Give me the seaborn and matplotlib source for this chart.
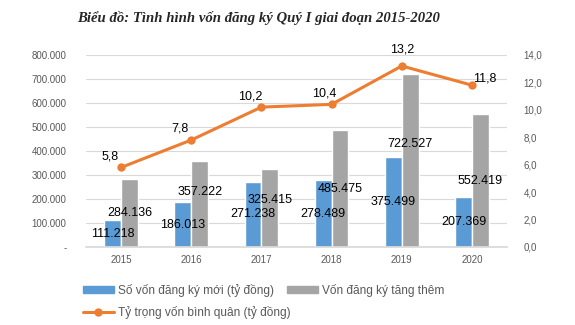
import numpy as np
import pandas as pd
import matplotlib
matplotlib.use("Agg")
import matplotlib.pyplot as plt
import seaborn as sns
from matplotlib.lines import Line2D
from matplotlib.patches import Patch

years = ["2015", "2016", "2017", "2018", "2019", "2020"]
new_capital = [111218, 186013, 271238, 278489, 375499, 207369]
added_capital = [284136, 357222, 325415, 485475, 722527, 552419]
avg_ratio = [5.8, 7.8, 10.2, 10.4, 13.2, 11.8]

s_new = "Số vốn đăng ký mới (tỷ đồng)"
s_add = "Vốn đăng ký tăng thêm"
s_ratio = "Tỷ trọng vốn bình quân (tỷ đồng)"
title = "Biểu đồ: Tình hình vốn đăng ký Quý I giai đoạn 2015-2020"

BLUE = "#5B9BD5"
GRAY = "#A5A5A5"
ORANGE = "#ED7D31"
TICK = "#595959"

sns.set_theme(style="white")
plt.rcParams["font.family"] = ["Liberation Sans", "DejaVu Sans"]

df = pd.DataFrame({
    "year": years * 2,
    "value": new_capital + added_capital,
    "series": [s_new] * len(years) + [s_add] * len(years),
})

fig = plt.figure(figsize=(5.75, 3.25), dpi=100)
ax = fig.add_axes([86 / 575, 78 / 325, 421 / 575, 192 / 325])

sns.barplot(data=df, x="year", y="value", hue="series", order=years,
            hue_order=[s_new, s_add], palette=[BLUE, GRAY], width=0.48,
            saturation=1, ax=ax, legend=False, errorbar=None)
ax.set_xlim(-0.5, len(years) - 0.5)
ax.set_ylim(0, 800000)
ax.set_yticks(np.arange(0, 800001, 100000))
ax.set_yticklabels(["-"] + [f"{v:,}".replace(",", ".") for v in range(100000, 800001, 100000)])
ax.set_xlabel("")
ax.set_ylabel("")
ax.grid(axis="y", color="#D9D9D9", linewidth=0.8)
ax.set_axisbelow(True)
for sp in ["top", "right", "left"]:
    ax.spines[sp].set_visible(False)
ax.spines["bottom"].set_color("#D9D9D9")
ax.tick_params(axis="both", length=0, labelsize=7, colors=TICK, pad=14)
ax.tick_params(axis="x", pad=6)

# bar data labels
gray_offsets = [0, 9, 6, 0, 12, 0]  # upward nudges in points (Excel label placement)
bars_new = ax.containers[0]
bars_add = ax.containers[1]
for i, (b, v) in enumerate(zip(bars_new, new_capital)):
    ax.annotate(f"{v:,}".replace(",", "."), (b.get_x() + b.get_width() / 2, v / 2),
                ha="center", va="center", fontsize=9, color="black")
for i, (b, v) in enumerate(zip(bars_add, added_capital)):
    ax.annotate(f"{v:,}".replace(",", "."), (b.get_x() + b.get_width() / 2, v / 2),
                xytext=(0, gray_offsets[i]), textcoords="offset points",
                ha="center", va="center", fontsize=9, color="black")

ax2 = ax.twinx()
sns.lineplot(x=np.arange(len(years)), y=avg_ratio, color=ORANGE, marker="o",
             markersize=6, markeredgewidth=0, linewidth=2.2, ax=ax2)
ax2.set_ylim(0, 14)
ax2.set_yticks(np.arange(0, 14.1, 2))
ax2.set_yticklabels([f"{v:.1f}".replace(".", ",") for v in np.arange(0, 14.1, 2)])
for sp in ["top", "right", "left", "bottom"]:
    ax2.spines[sp].set_visible(False)
ax2.tick_params(axis="y", length=0, labelsize=7, colors=TICK, pad=12)
ax2.grid(False)

label_offsets = [(-8, 8), (-8, 8), (-8, 8), (-5, 8), (0, 12), (9, 5)]
for i, v in enumerate(avg_ratio):
    ax2.annotate(f"{v:.1f}".replace(".", ","), (i, v), xytext=label_offsets[i],
                 textcoords="offset points", ha="center", va="center",
                 fontsize=9, color="black")

fig.text(259 / 575, 0.946, title, ha="center", va="center", fontsize=10.6,
         fontweight="bold", fontstyle="italic", family=["Liberation Serif", "DejaVu Serif"])

handles = [
    Patch(color=BLUE, label=s_new),
    Line2D([0], [0], color=ORANGE, marker="o", markersize=5, linewidth=2.2, label=s_ratio),
    Patch(color=GRAY, label=s_add),
]
fig.legend(handles=handles, ncol=2, loc="upper left", bbox_to_anchor=(0.125, 0.16),
           frameon=False, fontsize=8.6, handlelength=2.6, handleheight=0.5,
           columnspacing=-0.3, labelspacing=0.8, handletextpad=0.35, labelcolor=TICK)

fig.savefig("out.png", dpi=100)
